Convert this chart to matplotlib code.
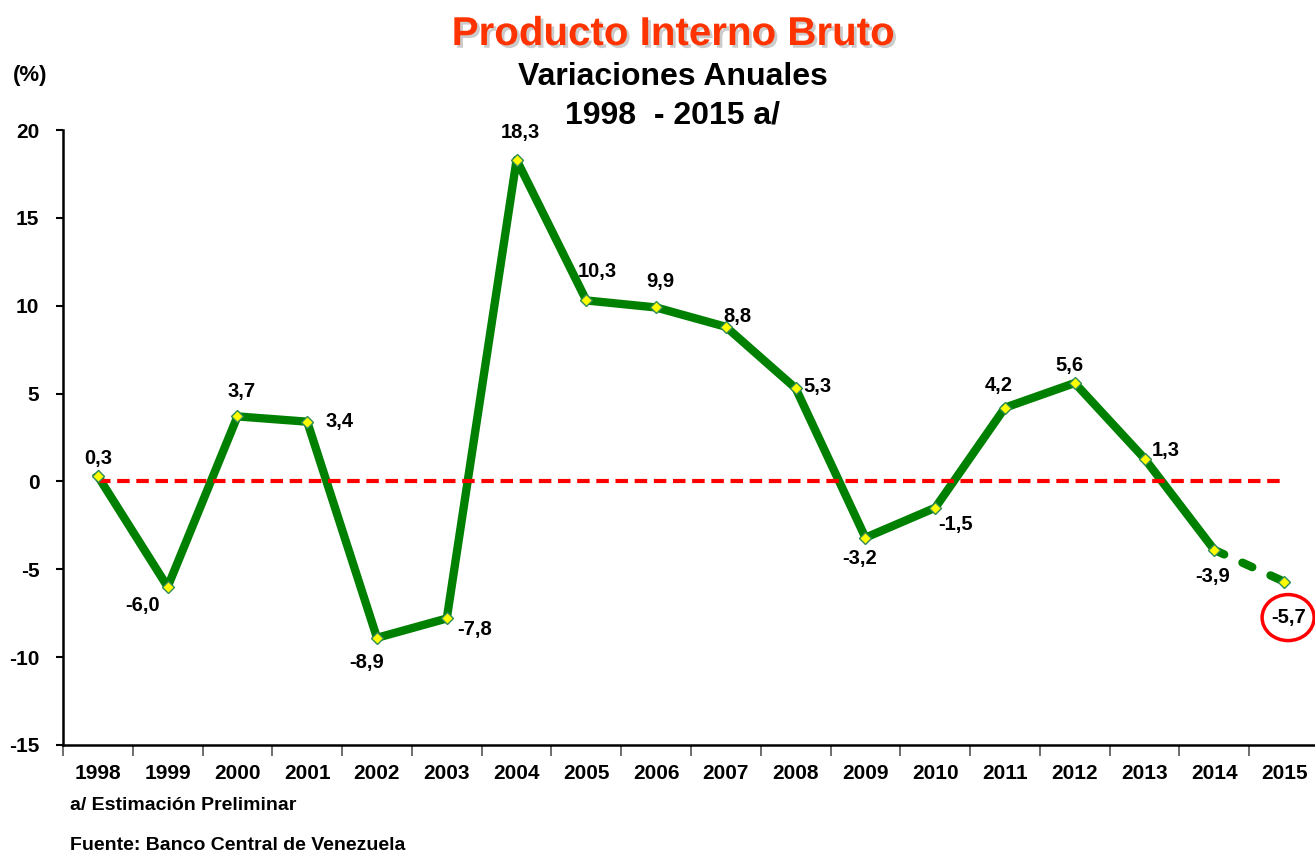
import matplotlib
matplotlib.use('Agg')
import matplotlib.pyplot as plt
import matplotlib.patheffects as pe
from matplotlib.patches import Ellipse
import numpy as np

plt.rcParams['font.family'] = ['Liberation Sans', 'DejaVu Sans']
plt.rcParams['font.weight'] = 'bold'
plt.rcParams['axes.unicode_minus'] = False

years = ['1998', '1999', '2000', '2001', '2002', '2003', '2004', '2005', '2006',
         '2007', '2008', '2009', '2010', '2011', '2012', '2013', '2014', '2015']
pib = [0.3, -6.0, 3.7, 3.4, -8.9, -7.8, 18.3, 10.3, 9.9,
       8.8, 5.3, -3.2, -1.5, 4.2, 5.6, 1.3, -3.9, -5.7]
labels = ['0,3', '-6,0', '3,7', '3,4', '-8,9', '-7,8', '18,3', '10,3', '9,9',
          '8,8', '5,3', '-3,2', '-1,5', '4,2', '5,6', '1,3', '-3,9', '-5,7']

# label offsets in pixels (layout only)
offsets = [(0, 18), (-25, -19), (4, 25), (32, 0), (-10, -25), (28, -11), (4, 27),
           (11, 29), (4, 26), (12, 10), (22, 2), (-6, -21), (20, -17), (-6, 22),
           (-5, 18), (21, 8), (-2, -27), (5, -36)]

fig = plt.figure(figsize=(13.15, 8.52), dpi=100)
ax = fig.add_axes([63/1315, 107/852, 1256/1315, 615/852])

x = np.arange(len(years))
green = '#008000'

ax.set_xlim(-0.5, 17.5)
ax.set_ylim(-15, 20)

# zero reference line across the year range
ax.plot([x[0], x[-1]], [0, 0], color='#ff0000', lw=3, ls=(0, (3, 1.6)), zorder=2.5)

# firm values up to 2014, estimate dashed
ax.plot(x[:-1], pib[:-1], color=green, lw=6, solid_joinstyle='round', zorder=2)
ax.plot(x[-2:], pib[-2:], color=green, lw=6, ls=(0, (1.3, 2.4)), dash_capstyle='round', zorder=2)
ax.plot(x, pib, ls='none', marker='D', ms=6, mfc='#ffff00', mec='#2e8b57', mew=1, zorder=3)

for xi, yi, lab, off in zip(x, pib, labels, offsets):
    ax.annotate(lab, (xi, yi), xytext=off, textcoords='offset pixels',
                ha='center', va='center', fontsize=14.5, fontweight='bold')

# circle around last estimate
circ_center = ax.transData.transform((x[-1], pib[-1])) + np.array([4, -36])
inv = ax.transData.inverted()
cx, cy = inv.transform(circ_center)
w = inv.transform(circ_center + np.array([52, 0]))[0] - cx
h = cy - inv.transform(circ_center - np.array([0, 46]))[1]
ax.add_patch(Ellipse((cx, cy), w, h, fill=False, ec='#ff0000', lw=2.5, clip_on=False))

ax.set_yticks(range(-15, 21, 5))
ax.tick_params(axis='y', length=5, width=1.5, labelsize=15, pad=12)
ax.set_xticks(np.arange(-0.5, 17.6, 1))
ax.set_xticklabels([])
ax.tick_params(axis='x', which='major', length=8, width=1.2, color='#555555')
ax.set_xticks(x, minor=True)
ax.set_xticklabels(years, minor=True, fontsize=15, fontweight='bold')
ax.tick_params(axis='x', which='minor', length=0, pad=14)
for lab in ax.get_yticklabels():
    lab.set_fontweight('bold')

for s in ['top', 'right']:
    ax.spines[s].set_visible(False)
ax.spines['left'].set_linewidth(1.8)
ax.spines['bottom'].set_linewidth(1.8)

fig.text(673/1315, 1 - 34/852, 'Producto Interno Bruto', ha='center', va='center',
         fontsize=29, fontweight='bold', color='#ff3300',
         path_effects=[pe.withSimplePatchShadow(offset=(2, -2), shadow_rgbFace='#999999', alpha=0.5)])
fig.text(673/1315, 1 - 77/852, 'Variaciones Anuales', ha='center', va='center',
         fontsize=23, fontweight='bold')
fig.text(673/1315, 1 - 116/852, '1998  - 2015 a/', ha='center', va='center',
         fontsize=23, fontweight='bold')
fig.text(30/1315, 1 - 75/852, '(%)', ha='center', va='center', fontsize=16, fontweight='bold')
fig.text(70/1315, 1 - 806/852, 'a/ Estimación Preliminar', ha='left', va='center',
         fontsize=14, fontweight='bold')
fig.text(70/1315, 1 - 845/852, 'Fuente: Banco Central de Venezuela', ha='left', va='center',
         fontsize=14, fontweight='bold')

fig.savefig('out.png', dpi=100)
